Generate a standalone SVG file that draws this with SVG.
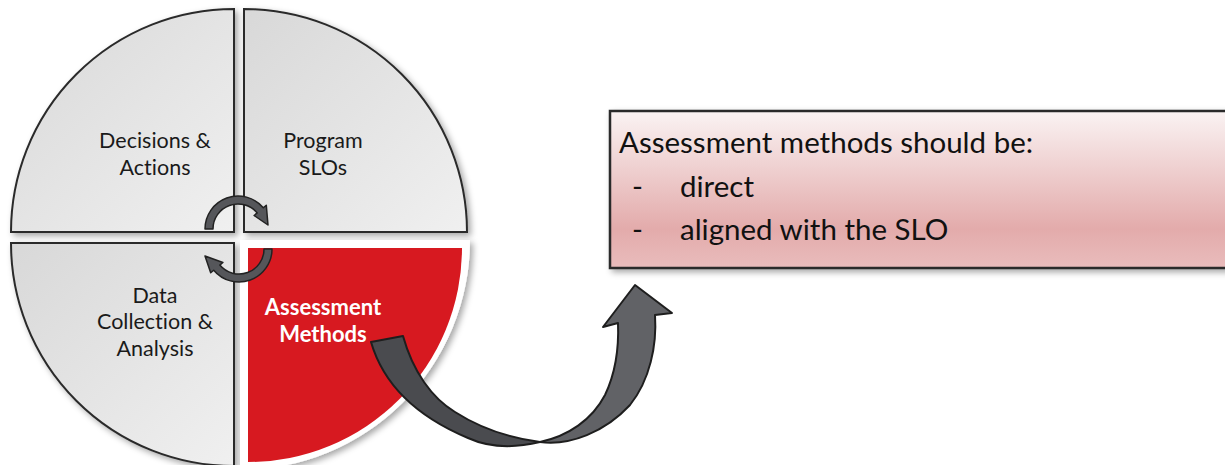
<svg xmlns="http://www.w3.org/2000/svg" width="1225" height="465" viewBox="0 0 1225 465">
<style>
text{font-variant-ligatures:none}
.q{stroke:#2b2b2b;stroke-width:2}
.lbl{font-family:Lato,"Open Sans","Liberation Sans",sans-serif;font-size:21.5px;fill:#1a1a1a;text-anchor:middle}
.wl{font-family:Lato,"Open Sans","Liberation Sans",sans-serif;font-size:22px;font-weight:bold;fill:#ffffff;text-anchor:middle}
.bt{font-family:Lato,"Open Sans","Liberation Sans",sans-serif;font-size:29.5px;fill:#111}
.ar{fill:#55565a;stroke:#222;stroke-width:1.5;stroke-linejoin:round}
</style>
<defs>
<linearGradient id="g" x1="0" y1="0" x2="1" y2="1">
<stop offset="0" stop-color="#d8d8d8"/><stop offset="1" stop-color="#f0f0f0"/>
</linearGradient>
<linearGradient id="bx" x1="0" y1="0" x2="0" y2="1">
<stop offset="0" stop-color="#faf3f3"/><stop offset="0.75" stop-color="#e3abab"/><stop offset="1" stop-color="#e9bcbc"/>
</linearGradient>
<filter id="sh" x="-10%" y="-10%" width="130%" height="130%">
<feDropShadow dx="3" dy="3" stdDeviation="3" flood-color="#000" flood-opacity="0.35"/>
</filter>
</defs>
<g id="quad-decisions">
<path class="q" fill="url(#g)" filter="url(#sh)" d="M234,232 L11,232 A223,223 0 0 1 234,9 Z"/>
<text class="lbl" x="155" y="148">Decisions &amp;</text>
<text class="lbl" x="155" y="175">Actions</text>
</g>
<g id="quad-slos">
<path class="q" fill="url(#g)" filter="url(#sh)" d="M244,232 L244,9 A223,223 0 0 1 467,232 Z"/>
<text class="lbl" x="323" y="148">Program</text>
<text class="lbl" x="323" y="175">SLOs</text>
</g>
<g id="quad-data">
<path class="q" fill="url(#g)" filter="url(#sh)" d="M234,243 L234,466 A223,223 0 0 1 11,243 Z"/>
<text class="lbl" x="155" y="303">Data</text>
<text class="lbl" x="155" y="329">Collection &amp;</text>
<text class="lbl" x="155" y="356">Analysis</text>
</g>
<g id="quad-assessment">
<path fill="#ffffff" filter="url(#sh)" d="M240,240 L470,240 A230,230 0 0 1 240,470 Z"/>
<path fill="#d71920" d="M248,248 L462,248 A214,214 0 0 1 248,462 Z"/>
<text class="wl" x="323" y="315">Assessment</text>
<text class="wl" x="323" y="342">Methods</text>
</g>
<g id="box">
<rect x="610" y="111" width="630" height="157" fill="url(#bx)" stroke="#2b2b2b" stroke-width="2.5" filter="url(#sh)"/>
<text class="bt" x="619" y="153">Assessment methods should be:</text>
<text class="bt" x="632" y="197">-</text>
<text class="bt" x="680" y="197">direct</text>
<text class="bt" x="632" y="240">-</text>
<text class="bt" x="680" y="240">aligned with the SLO</text>
</g>
<g id="connectors">
<path class="ar" d="M205,229 A33,33 0 0 1 263.3,207.8 L266.3,205.2 L268,225 L254.1,215.5 L257.2,212.9 A25,25 0 0 0 213,229 Z"/>
<path class="ar" d="M272,249 A33,33 0 0 1 213.7,270.2 L210.7,272.8 L205,256 L222.9,262.5 L219.8,265.1 A25,25 0 0 0 264,249 Z"/>
<path fill="#4a4b4f" stroke="#1e1e1e" stroke-width="2" stroke-linejoin="round" d="M371,342 L403,336 C413,372 432,398 455,412 C480,428 510,438 540,442 C515,448 490,448 468,438 C425,420 385,390 371,342 Z"/>
<path fill="#616266" stroke="#1e1e1e" stroke-width="2" stroke-linejoin="round" d="M540,442 C568,436 592,420 605,395 C616,372 619,348 618,323 L603,327 L635,285 L672,313 L655,315 C657,345 650,380 630,405 C605,432 570,446 540,442 Z"/>
</g>
</svg>
